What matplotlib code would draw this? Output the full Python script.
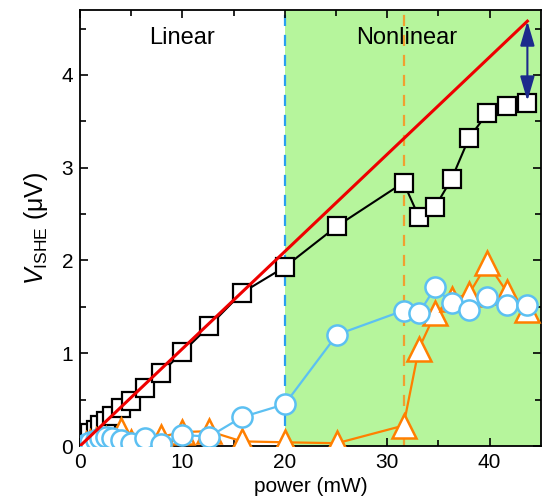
import numpy as np
import matplotlib
matplotlib.use('Agg')
import matplotlib.pyplot as plt

plt.rcParams['font.family'] = ['Liberation Sans', 'DejaVu Sans']
plt.rcParams['mathtext.fontset'] = 'custom'
plt.rcParams['mathtext.rm'] = 'Liberation Sans'
plt.rcParams['mathtext.it'] = 'Liberation Sans:italic'

# microwave power (mW)
power = [0.63, 1.0, 1.58, 2.0, 2.51, 3.16, 3.98, 5.01, 6.31, 7.94, 10.0, 12.6, 15.8,
         20.0, 25.1, 31.6, 33.1, 34.7, 36.3, 38.0, 39.8, 41.7, 43.7]

# V_ISHE (uV) for three samples
v_square = [0.12, 0.14, 0.17, 0.23, 0.27, 0.32, 0.41, 0.49, 0.62, 0.79, 1.01, 1.29, 1.65,
            1.93, 2.37, 2.84, 2.47, 2.58, 2.88, 3.32, 3.59, 3.67, 3.70]
v_circle = [0.02, 0.04, 0.07, 0.09, 0.10, 0.09, 0.06, 0.03, 0.09, 0.02, 0.12, 0.10, 0.31,
            0.45, 1.20, 1.46, 1.43, 1.71, 1.54, 1.47, 1.61, 1.52, 1.52]
v_triangle = [0.02, 0.04, 0.06, 0.05, 0.08, 0.03, 0.17, 0.04, 0.02, 0.10, 0.15, 0.16, 0.05,
              0.04, 0.03, 0.22, 1.05, 1.43, 1.58, 1.64, 1.97, 1.66, 1.47]

# linear fit of the low-power part
fit_x = [0.0, 43.7]
fit_slope = 0.1048

linear_limit = 20.0
second_limit = 31.6

fig = plt.figure(figsize=(5.42, 5.0), dpi=100)
ax = fig.add_axes([0.1476, 0.108, 0.850, 0.872])

ax.axvspan(linear_limit, 45, color='#b6f59c', lw=0, zorder=0)
ax.axvline(linear_limit, color='#2a9ff0', lw=1.6, dashes=(5, 4), zorder=1)
ax.axvline(second_limit, color='#f0a030', lw=1.6, dashes=(5, 4), zorder=1)

ax.plot(power, v_square, color='black', lw=1.5, marker='s', ms=12.5,
        mfc='white', mec='black', mew=1.6, zorder=3)
ax.plot(power, v_triangle, color='#ff7f00', lw=1.6, marker='^', ms=17,
        mfc='white', mec='#ff7f00', mew=1.8, zorder=4)
ax.plot(power, v_circle, color='#5cc0f2', lw=1.6, marker='o', ms=14.5,
        mfc='white', mec='#5cc0f2', mew=1.8, zorder=5)

fit_y = [fit_slope * x for x in fit_x]
ax.plot(fit_x, fit_y, color='#ee0000', lw=2.2, zorder=6)

ax.annotate('', xy=(fit_x[-1], v_square[-1] + 0.02), xytext=(fit_x[-1], fit_y[-1]),
            arrowprops=dict(arrowstyle='<|-|>,head_length=0.75,head_width=0.22',
                            color='#1c2a8c', lw=1.5, shrinkA=0, shrinkB=0,
                            mutation_scale=20), zorder=7)

ax.text(10, 4.4, 'Linear', fontsize=17, ha='center', va='center')
ax.text(31.9, 4.4, 'Nonlinear', fontsize=17, ha='center', va='center')

ax.set_xlim(0, 45)
ax.set_ylim(0, 4.7)
ax.set_xticks([0, 10, 20, 30, 40])
ax.set_xticks(np.arange(5, 45, 10), minor=True)
ax.set_yticks([0, 1, 2, 3, 4])
ax.set_yticks(np.arange(0.5, 4.7, 1.0), minor=True)
ax.tick_params(which='both', direction='in', top=True, right=True, width=1.2,
               labelsize=15)
ax.tick_params(which='major', length=6, pad=5)
ax.tick_params(which='minor', length=4)
for s in ax.spines.values():
    s.set_linewidth(1.3)

ax.set_xlabel('power (mW)', fontsize=15, labelpad=4)
ax.set_ylabel(r'$V_{\mathrm{ISHE}}$ (μV)', fontsize=18, labelpad=8)

fig.savefig('out.png', dpi=100)
